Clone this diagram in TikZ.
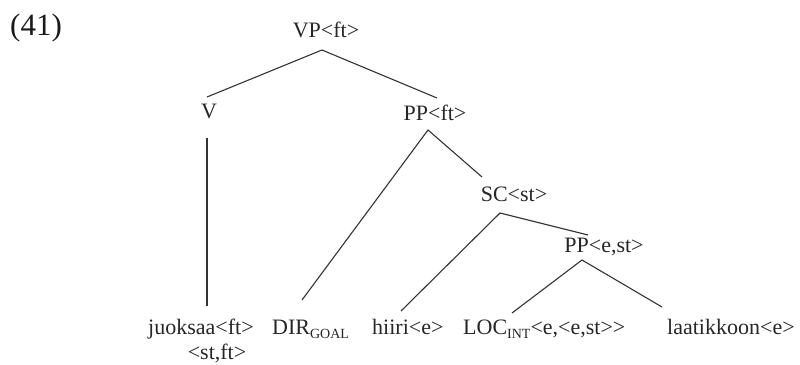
\documentclass[tikz,border=0pt]{standalone}
\usepackage{fontspec}
\setmainfont{Liberation Serif}
\newcommand{\smallsub}[1]{\raisebox{-4pt}{\fontsize{14}{14}\selectfont #1}}
\begin{document}
\begin{tikzpicture}[x=1pt,y=-1pt,
  lbl/.style={inner sep=0pt, anchor=base, font=\fontsize{22}{26}\selectfont, text=black!85},
  leaf/.style={lbl, anchor=base west},
  edge/.style={draw=black!80, line width=1.1pt}]
\useasboundingbox (0,0) rectangle (800,364);
% example number
\node[inner sep=0pt, anchor=base west, font=\fontsize{31}{36}\selectfont, text=black!90] (num) at (10,35) {(41)};
% inner nodes
\node[lbl] (vp) at (326,37) {VP<ft>};
\node[lbl] (v) at (209,118) {V};
\node[lbl] (ppft) at (435,120) {PP<ft>};
\node[lbl] (sc) at (514,201) {SC<st>};
\node[lbl] (ppest) at (604,252) {PP<e,st>};
% leaves
\node[leaf] (juoksaa) at (148,334) {juoksaa<ft>};
\node[lbl] (juoksaa2) at (217,359) {<st,ft>};
\node[leaf] (dir) at (272,334) {DIR\smallsub{GOAL}};
\node[leaf] (hiiri) at (372,334) {hiiri<e>};
\node[leaf] (loc) at (463,334) {LOC\smallsub{INT}<e,<e,st>{}>};
\node[leaf] (laatikkoon) at (667,334) {laatikkoon<e>};
% connector end points
\coordinate (vp-b) at (322,50);
\coordinate (v-t) at (207,97);
\coordinate (v-b) at (207,138);
\coordinate (ppft-t) at (437,98);
\coordinate (ppft-b) at (428,130);
\coordinate (sc-t) at (482,177);
\coordinate (sc-b) at (500,213);
\coordinate (ppest-t) at (588,235);
\coordinate (ppest-b) at (582,260);
\coordinate (juoksaa-t) at (207,306);
\coordinate (dir-t) at (302,300);
\coordinate (hiiri-t) at (401,311);
\coordinate (loc-t) at (512,313);
\coordinate (laatikkoon-t) at (662,307);
% connectors
\draw[edge] (v-t) -- (vp-b) -- (ppft-t);
\draw[edge] (v-b) -- (juoksaa-t);
\draw[edge] (dir-t) -- (ppft-b) -- (sc-t);
\draw[edge] (hiiri-t) -- (sc-b) -- (ppest-t);
\draw[edge] (loc-t) -- (ppest-b) -- (laatikkoon-t);
\end{tikzpicture}
\end{document}
